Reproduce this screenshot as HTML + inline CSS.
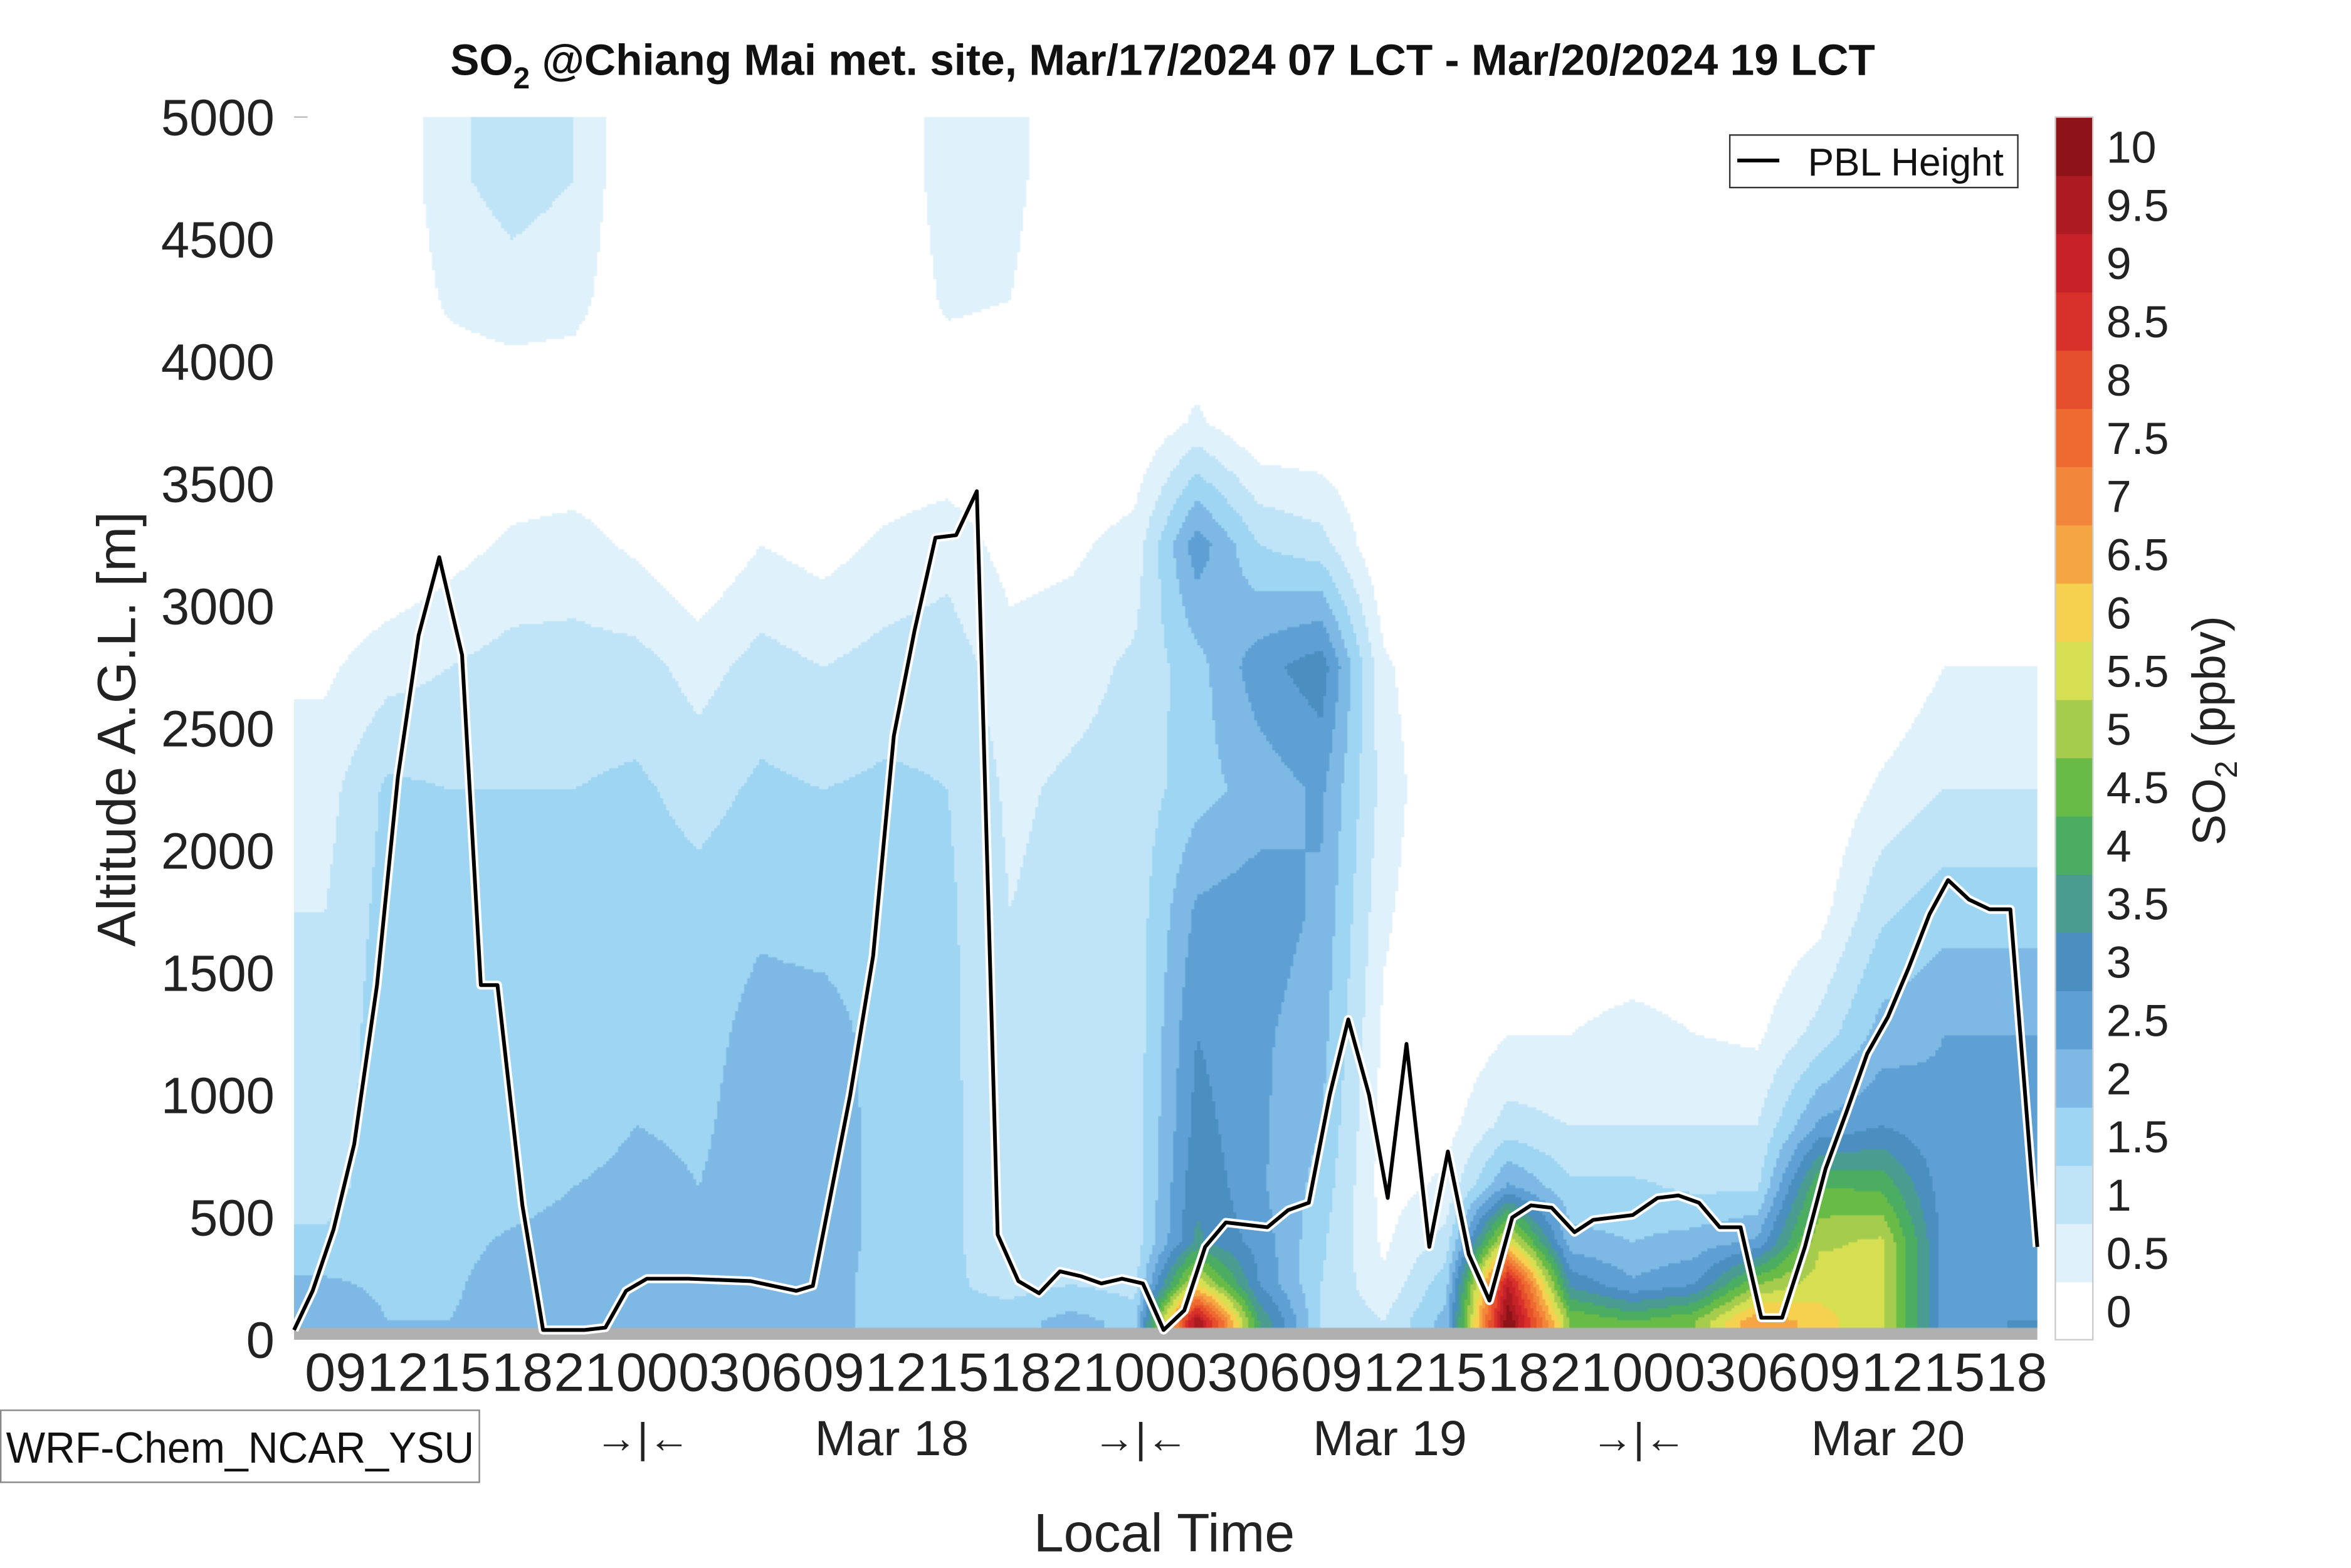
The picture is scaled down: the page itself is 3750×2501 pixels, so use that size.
<!DOCTYPE html>
<html><head><meta charset="utf-8"><style>
html,body{margin:0;padding:0;background:#fff;}
#wrap{position:absolute;left:0;top:0;width:1567px;height:1045px;transform:scale(2.393);transform-origin:0 0;font-family:"Liberation Sans",sans-serif;}
#cv{position:absolute;left:196px;top:78px;width:1162px;height:815px;}
svg{position:absolute;left:0;top:0;}
</style></head><body>
<div id="wrap">
<canvas id="cv" width="1162" height="815"></canvas>
<svg id="sv" width="1567" height="1045" viewBox="0 0 1567 1045"></svg>
</div>
<script>
// ---- data ----
const altBinBottoms=[0,150,300,500,750,1000,1500,2000,2500,3000,3500,4000,4500];
const colHours=[1.5,4.5,7.5,10.5,13.5,16.5,19.5,22.5,25.5,28.5,31.5,34.5,37.5,40.5,43.5,46.5,49.5,52.5,55.5,58.5,61.5,64.5,67.5,70.5,73.5,76.5,79.5,82.5];
const so2Cols=[
[2.4,2.1,1.6,1.3,1.2,1.1,1.0,0.8,0.4,0,0,0,0],
[2.0,1.9,1.8,1.8,1.8,1.8,1.7,1.6,0.8,0,0,0,0],
[2.0,1.9,1.8,1.8,1.8,1.7,1.7,1.5,1.0,0.3,0,0.6,0.9],
[2.3,2.3,2.1,1.7,1.6,1.6,1.6,1.5,1.2,0.6,0,0.8,1.2],
[2.3,2.3,2.3,2.0,1.7,1.6,1.6,1.5,1.2,0.7,0,0.7,1.0],
[2.3,2.3,2.3,2.2,2.0,1.9,1.8,1.6,1.2,0.4,0,0,0],
[2.0,2.0,2.0,2.0,1.9,1.8,1.7,1.3,0.8,0,0,0,0],
[2.2,2.2,2.3,2.3,2.3,2.2,1.9,1.6,1.2,0.5,0,0,0],
[2.2,2.2,2.3,2.3,2.3,2.2,1.8,1.5,1.0,0.3,0,0,0],
[1.8,1.8,1.8,1.8,1.8,1.8,1.8,1.6,1.2,0.6,0,0,0],
[1.6,1.6,1.6,1.6,1.6,1.6,1.6,1.5,1.3,0.8,0,0.6,0.8],
[1.8,1.3,1.2,1.2,1.2,1.1,1.0,0.9,0.7,0.3,0,0.5,0.7],
[2.2,1.5,1.2,1.2,1.2,1.2,1.2,1.1,0.8,0.4,0,0,0],
[1.8,1.3,1.2,1.2,1.2,1.2,1.2,1.2,1.1,0.7,0,0,0],
[10,6.0,3.6,3.4,3.2,3.0,2.6,1.8,1.8,2.8,0.6,0,0],
[4.0,3.0,2.8,2.6,2.6,2.6,2.8,2.2,2.8,1.5,0,0,0],
[1.5,1.5,1.6,1.8,2.0,2.2,2.4,2.6,3.3,1.2,0,0,0],
[1.0,0.6,0.4,0.3,0.3,0.4,0.6,0.8,0.6,0,0,0,0],
[2.2,1.8,1.2,0.6,0.3,0,0,0,0,0,0,0,0],
[10.5,9.5,6.0,2.6,1.2,0.5,0,0,0,0,0,0,0],
[5.0,3.4,2.2,1.6,1.0,0.5,0,0,0,0,0,0,0],
[4.5,2.6,2.0,1.6,1.0,0.7,0,0,0,0,0,0,0],
[5.0,3.0,2.2,1.4,1.0,0.5,0,0,0,0,0,0,0],
[7.0,5.0,2.6,1.4,1.0,0.4,0,0,0,0,0,0,0],
[6.2,5.8,5.4,4.5,2.6,1.2,0.3,0,0,0,0,0,0],
[5.6,5.6,5.6,4.4,3.0,2.2,1.4,0.6,0,0,0,0,0],
[2.8,2.8,2.8,2.7,2.6,2.5,1.8,1.0,0.5,0,0,0,0],
[3.0,2.7,2.6,2.6,2.6,2.5,1.8,1.0,0.5,0,0,0,0]
];
const pblHours=[0,0.9,1.9,2.9,4,5,6,7,8.1,9,9.8,11,12,14,15,16,17,19,22,24.2,25,26.8,27.9,28.9,29.9,30.9,31.9,32.9,33.9,34.9,35.9,36.9,37.9,38.9,39.9,40.9,41.9,42.9,43.9,44.9,46.9,47.9,48.9,49.9,50.8,51.8,52.7,53.6,54.7,55.6,56.6,57.6,58.7,59.6,60.6,61.7,62.6,64.5,65.7,66.7,67.7,68.7,69.7,70.7,71.7,72.8,73.8,74.8,75.8,76.8,77.8,78.8,79.7,80.7,81.7,82.7,84];
const pblVals=[40,200,450,800,1450,2300,2880,3200,2800,1450,1450,550,40,40,50,200,250,250,240,200,220,1000,1570,2470,2900,3280,3290,3470,430,240,190,280,260,230,250,230,40,120,380,480,460,530,560,1000,1310,1000,580,1210,380,770,350,160,500,550,540,440,490,510,580,590,560,460,460,90,90,380,700,930,1170,1320,1520,1740,1880,1800,1760,1760,380];
const cbarLabels=["0","0.5","1","1.5","2","2.5","3","3.5","4","4.5","5","5.5","6","6.5","7","7.5","8","8.5","9","9.5","10"];
const yTicks=[0,500,1000,1500,2000,2500,3000,3500,4000,4500,5000];
const xTickLabels=["09","12","15","18","21","00","03","06","09","12","15","18","21","00","03","06","09","12","15","18","21","00","03","06","09","12","15","18"];
const dayLabels=[["Mar 18",36],["Mar 19",60],["Mar 20",84]];
const colors=["#ffffff","#dff1fb","#c0e4f7","#9dd5f2","#7db9e4","#5fa0d4","#4a8fc0","#4a9c90","#4aad62","#68bb47","#a6cc4e","#d6df52","#f6d150","#f5a642","#f2863a","#ee6a30","#e54f2c","#d8302a","#c7222a","#ad1b22","#8e1318"];
// ---- axes ----
const X0=196,X1=1358,Y0=893,Y1=78,HT=84;
const xs=h=>X0+h/HT*(X1-X0);
const ys=a=>Y0-a/5000*(Y0-Y1);
// ---- field ----
const cv=document.getElementById('cv'),ctx=cv.getContext('2d');
const rowAlts=altBinBottoms.map((b,i)=>i<altBinBottoms.length-1?(b+altBinBottoms[i+1])/2:(b+5000)/2);
function seg(arr,v){if(v<=arr[0])return[0,0,0];for(let i=0;i<arr.length-1;i++){if(v<=arr[i+1])return[i,i+1,(v-arr[i])/(arr[i+1]-arr[i])];}const n=arr.length-1;return[n,n,0];}
const st=2;
for(let py=0;py<815;py+=st){const a=(815-py-st/2)/815*5000;const[r0,r1,tr]=seg(rowAlts,a);
 for(let px=0;px<1162;px+=st){const h=(px+st/2)/1162*HT;const[c0,c1,tc]=seg(colHours,h);
  const v=(so2Cols[c0][r0]*(1-tc)+so2Cols[c1][r0]*tc)*(1-tr)+(so2Cols[c0][r1]*(1-tc)+so2Cols[c1][r1]*tc)*tr;
  let k=Math.min(20,Math.max(0,Math.floor(v/0.5)));ctx.fillStyle=colors[k];ctx.fillRect(px,py,st,st);}}
ctx.fillStyle="#b0b0b0";ctx.fillRect(0,807,1162,8);
// ---- svg ----
const NS="http://www.w3.org/2000/svg",sv=document.getElementById('sv');
function mk(t,at,txt){const e=document.createElementNS(NS,t);for(const k in at)e.setAttribute(k,at[k]);if(txt!==undefined)e.textContent=txt;sv.appendChild(e);return e;}
let d=pblHours.map((h,i)=>(i?'L':'M')+xs(h).toFixed(1)+' '+ys(pblVals[i]).toFixed(1)).join(' ');
let e=mk('path',{d:d,fill:'none',stroke:'#fff',"stroke-width":6,"stroke-linejoin":"round"});


e=mk('path',{d:d,fill:'none',stroke:'#000',"stroke-width":2.5,"stroke-linejoin":"round"});


yTicks.forEach(v=>{e=mk('text',{x:183,y:ys(v)+12,"text-anchor":"end","font-size":34,fill:"#222"},String(v));

});
mk('line',{x1:196,x2:205,y1:78,y2:78,stroke:"#bbb","stroke-width":1});
xTickLabels.forEach((l,i)=>{e=mk('text',{x:xs(2+3*i),y:927,"text-anchor":"middle","font-size":36,fill:"#222",textLength:41,lengthAdjust:"spacingAndGlyphs"},l);

});
dayLabels.forEach(([l,h])=>{e=mk('text',{x:xs(h-7.2),y:970,"text-anchor":"middle","font-size":33,fill:"#222"},l);


e=mk('text',{x:xs(h-19.2),y:968,"text-anchor":"middle","font-size":28,fill:"#222"},"→|←");

});
e=mk('text',{x:776,y:1034,"text-anchor":"middle","font-size":36,fill:"#222"},"Local Time");


e=mk('text',{x:0,y:0,"text-anchor":"middle","font-size":36,fill:"#222",transform:"translate(90,486) rotate(-90)"},"Altitude A.G.L. [m]");


e=mk('text',{x:775,y:50,"text-anchor":"middle","font-size":29,"font-weight":"bold",fill:"#111"});
e.innerHTML='SO<tspan font-size="20" dy="9">2</tspan><tspan dy="-9"> @Chiang Mai met. site, Mar/17/2024 07 LCT - Mar/20/2024 19 LCT</tspan>';


const bh=(893-78)/21;
colors.forEach((c,i)=>{e=mk('rect',{x:1370,y:893-(i+1)*bh,width:25,height:bh+0.5,fill:c});

});
mk('rect',{x:1370,y:78,width:25,height:815,fill:"none",stroke:"#ccc","stroke-width":1});
cbarLabels.forEach((l,i)=>{e=mk('text',{x:1404,y:893-(i+0.5)*bh+11,"font-size":30,fill:"#222"},l);

});
e=mk('text',{x:0,y:0,"text-anchor":"middle","font-size":31,fill:"#222",transform:"translate(1483,487) rotate(-90)"});
e.innerHTML='SO<tspan font-size="21" dy="8">2</tspan><tspan dy="-8"> (ppbv)</tspan>';


e=mk('rect',{x:1153,y:90,width:192,height:35,fill:"#fff",stroke:"#333","stroke-width":1});


mk('line',{x1:1158,x2:1186,y1:107,y2:107,stroke:"#000","stroke-width":2.5});
e=mk('text',{x:1205,y:117,"font-size":26,fill:"#111"},"PBL Height");


e=mk('rect',{x:0.5,y:940,width:319,height:48,fill:"#fff",stroke:"#888","stroke-width":1});


e=mk('text',{x:160,y:975,"text-anchor":"middle","font-size":29,fill:"#111",textLength:312,lengthAdjust:"spacingAndGlyphs"},"WRF-Chem_NCAR_YSU");


</script>
</body></html>
